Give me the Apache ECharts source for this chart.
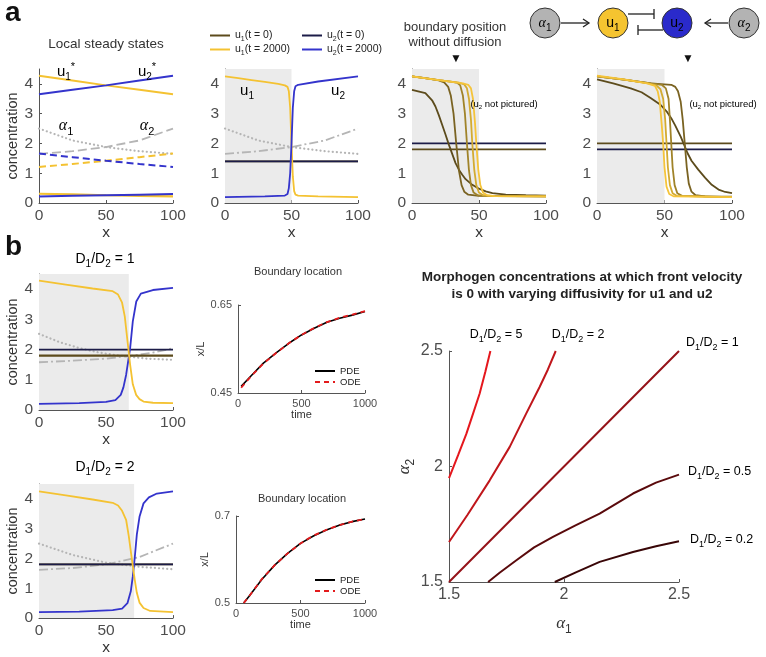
<!DOCTYPE html>
<html>
<head>
<meta charset="utf-8">
<script src="https://cdn.jsdelivr.net/npm/echarts@6/dist/echarts.min.js"></script>
<style>html,body{margin:0;background:#fff}#fig{width:766px;height:657px}</style>
</head>
<body>
<div id="fig"></div>
<script>
// ---- data ----
const stateX = [0, 25, 50, 75, 100];
const edgeX = [0, 100];
const alpha1 = [2.5, 2.1, 1.88, 1.74, 1.65];
const alpha2 = [1.65, 1.74, 1.88, 2.1, 2.5];
const u1High = [4.27, 4.11, 3.95, 3.8, 3.65];
const u2High = [3.65, 3.8, 3.95, 4.11, 4.27];
const u1Mid = [1.21, 1.31, 1.42, 1.54, 1.66];
const u2Mid = [1.66, 1.54, 1.42, 1.31, 1.21];
const u1Low = [0.31, 0.29, 0.26, 0.24, 0.22];
const u2Low = [0.22, 0.24, 0.26, 0.28, 0.3];

// panel a2
const a2Shade = [[0, 4.5], [50, 4.5]];
const a2Init = [1.4, 1.4];
const a2U1 = [[0,4.25],[10,4.19],[20,4.13],[30,4.07],[40,4.0],[45,3.95],[47,3.9],[48,3.75],[49,3.2],[50,2.0],[51,0.9],[52,0.4],[53,0.28],[55,0.25],[70,0.22],[100,0.2]];
const a2U2 = [[0,0.2],[30,0.22],[45,0.25],[47,0.3],[48,0.5],[49,1.0],[50,2.0],[51,3.2],[52,3.75],[53,3.92],[55,3.97],[70,4.08],[100,4.25]];

// panel a3 (boundary moves right)
const a3Shade = [[0, 4.5], [50, 4.5]];
const a3U2Init = [2.0, 2.0];
const a3U1Init = [1.8, 1.8];
const a3Curves = [
  [[0,3.8],[10,3.69],[15,3.45],[17.5,3.24],[20,2.95],[22.5,2.63],[25,2.3],[27.5,1.96],[30,1.65],[32.5,1.34],[35,1.12],[37.5,0.95],[40,0.8],[45,0.61],[50,0.48],[55,0.39],[60,0.33],[70,0.28],[85,0.26],[100,0.25]],
  [[0,4.25],[10,4.19],[20,4.12],[24,4.05],[27,3.9],[29,3.6],[31,3.0],[33,2.0],[35,1.1],[37,0.6],[39,0.38],[42,0.28],[50,0.24],[100,0.22]],
  [[0,4.25],[20,4.13],[30,4.07],[34,4.03],[36,3.95],[38,3.6],[39.5,3.0],[41,2.0],[42.5,1.1],[44,0.6],[46,0.35],[49,0.26],[60,0.23],[100,0.22]],
  [[0,4.25],[20,4.13],[35,4.04],[39,3.98],[41,3.85],[42.5,3.5],[44,2.8],[45,2.0],[46.5,1.1],[48,0.6],[50,0.35],[53,0.26],[60,0.23],[100,0.22]],
  [[0,4.25],[20,4.13],[38,4.02],[42,3.97],[44,3.85],[45.5,3.5],[47,2.7],[48,2.0],[49.5,1.1],[51,0.6],[53,0.35],[56,0.26],[62,0.23],[100,0.22]]
];

// panel a4 (boundary moves left)
const a4Shade = [[0, 4.5], [50, 4.5]];
const a4U1Init = [2.0, 2.0];
const a4U2Init = [1.8, 1.8];
const a4Curves = [
  [[0,4.15],[12,4.02],[25,3.85],[33,3.72],[40,3.52],[47,3.3],[52,3.05],[55,2.85],[58,2.6],[62,2.23],[65,1.9],[67,1.68],[70,1.42],[75,1.12],[80,0.85],[85,0.61],[90,0.45],[95,0.37],[100,0.33]],
  [[0,4.25],[20,4.14],[40,4.02],[55,3.97],[58,3.9],[60,3.75],[62,3.4],[63.5,2.8],[65,2.0],[66.5,1.2],[68,0.65],[70,0.38],[73,0.26],[80,0.22],[100,0.21]],
  [[0,4.25],[20,4.14],[40,4.02],[48,3.97],[51,3.85],[53,3.5],[54,2.8],[55,2.0],[56,1.2],[57.5,0.6],[59.5,0.33],[63,0.24],[100,0.2]],
  [[0,4.25],[20,4.14],[38,4.02],[44,3.95],[47,3.82],[49,3.5],[50.5,2.8],[51.5,2.0],[52.5,1.2],[54,0.6],[56,0.33],[59,0.24],[100,0.2]],
  [[0,4.28],[20,4.15],[37,4.02],[43,3.93],[45,3.75],[46.5,3.4],[48,2.6],[49,2.0],[50,1.2],[51.5,0.55],[53.5,0.3],[57,0.22],[100,0.2]]
];

// panel b, D1/D2 = 1
const b1Shade = [[0, 4.5], [67, 4.5]];
const b1U2Init = [2.0, 2.0];
const b1U1Init = [1.8, 1.8];
const b1Alpha1 = [[0,2.52],[15,2.25],[30,2.05],[45,1.9],[60,1.8],[80,1.7],[100,1.66]];
const b1Alpha2 = [[0,1.58],[25,1.63],[50,1.7],[70,1.8],[85,1.9],[100,2.04]];
const b1U1 = [[0,4.28],[20,4.15],[40,4.02],[55,3.93],[59,3.82],[62,3.55],[64,3.1],[66,2.3],[68,1.5],[70,0.85],[72.5,0.5],[75,0.36],[78,0.28],[85,0.24],[100,0.23]];
const b1U2 = [[0,0.2],[30,0.23],[50,0.27],[57,0.33],[61,0.5],[63,0.75],[65,1.16],[66.5,1.6],[68,2.04],[70,2.93],[72.6,3.59],[76,3.85],[85,3.97],[100,4.04]];

// panel b, D1/D2 = 2
const b2Shade = [[0, 4.5], [71, 4.5]];
const b2Init = [1.8, 1.8];
const b2Alpha1 = [[0,2.5],[25,2.12],[50,1.86],[75,1.72],[100,1.64]];
const b2Alpha2 = [[0,1.62],[25,1.68],[50,1.8],[75,2.05],[100,2.5]];
const b2U1 = [[0,4.25],[20,4.12],[40,3.98],[55,3.87],[59,3.78],[62,3.6],[65,3.3],[67,2.75],[69,2.08],[71.4,1.3],[73,0.85],[75,0.52],[78,0.34],[83,0.24],[100,0.2]];
const b2U2 = [[0,0.2],[30,0.22],[55,0.27],[62,0.32],[66,0.5],[68.5,0.9],[70,1.4],[71.4,2.0],[73,2.8],[75,3.4],[78,3.85],[82,4.05],[88,4.18],[100,4.25]];

// boundary location vs time
const time1 = [25, 100, 200, 300, 400, 500, 600, 700, 800, 900, 1000];
const pde1 = [0.465, 0.488, 0.518, 0.541, 0.563, 0.582, 0.597, 0.611, 0.62, 0.627, 0.635];
const ode1 = [0.462, 0.487, 0.517, 0.541, 0.563, 0.582, 0.598, 0.611, 0.621, 0.628, 0.636];
const time2 = [60, 100, 200, 300, 400, 500, 600, 700, 800, 900, 1000];
const pde2 = [0.5, 0.515, 0.554, 0.587, 0.614, 0.637, 0.654, 0.668, 0.679, 0.687, 0.693];
const ode2 = [0.5, 0.515, 0.555, 0.587, 0.614, 0.637, 0.655, 0.668, 0.679, 0.687, 0.693];

// zero-velocity curves (alpha1, alpha2)
const ratioLabels = ['5', '2', '1', '0.5', '0.2'];
const ratioCurves = [
  [[1.5,1.95],[1.54,2.05],[1.575,2.14],[1.605,2.23],[1.633,2.315],[1.658,2.41],[1.68,2.5]],
  [[1.5,1.673],[1.58,1.79],[1.677,1.94],[1.764,2.085],[1.836,2.23],[1.894,2.344],[1.93,2.42],[1.964,2.5]],
  [[1.5,1.5],[2.0,2.0],[2.5,2.5]],
  [[1.67,1.5],[1.72,1.54],[1.793,1.594],[1.87,1.65],[1.952,1.695],[2.05,1.745],[2.155,1.796],[2.3,1.883],[2.4,1.93],[2.5,1.965]],
  [[1.96,1.5],[2.054,1.543],[2.155,1.587],[2.3,1.63],[2.4,1.655],[2.5,1.676]]
];

// ---- styling ----
const FONT = '"Liberation Sans", Arial, sans-serif';
const SERIF = '"Liberation Serif", serif';
const YEL = '#f4c232', BLU = '#3434cc', NAVY = '#1c1c48', OLV = '#5c4b1c', GRY = '#b5b5b5', SHADE = '#ebebeb';
const ramp = ['#5c4b1c', '#7a6322', '#a08329', '#d3ab31', '#f5c43a'];
const ratioColors = ['#e5171d', '#c0161b', '#951319', '#5a0a0c', '#390607'];
const AXC = '#555', LBC = '#4d4d4d';

const zip = (xs, ys) => xs.map((x, i) => [x, ys[i]]);

function richSub(fs, color, fam, italic) {
  const f = fam || FONT;
  return {
    n: {fontSize: fs, fontFamily: f, color: color, lineHeight: Math.round(fs * 1.4), fontStyle: italic ? 'italic' : 'normal'},
    s: {fontSize: Math.round(fs * 0.68), fontFamily: FONT, color: color, lineHeight: Math.round(fs * 0.68), verticalAlign: 'bottom'},
    p: {fontSize: Math.round(fs * 0.7), fontFamily: FONT, color: color, lineHeight: Math.round(fs * 0.7), verticalAlign: 'top'}
  };
}

function xAx(gi, min, max, step, fs, name, gap) {
  return {
    type: 'value', gridIndex: gi, min: min, max: max, interval: step,
    name: name || '', nameLocation: 'middle', nameGap: gap || 20,
    nameTextStyle: {color: '#333', fontSize: fs, fontFamily: FONT},
    axisLine: {lineStyle: {color: AXC}}, axisTick: {inside: true, length: 3, lineStyle: {color: AXC}},
    axisLabel: {color: LBC, fontSize: fs, fontFamily: FONT, margin: 5, formatter: v => String(+v.toFixed(3))},
    splitLine: {show: false}
  };
}
function yAx(gi, min, max, step, fs, name, gap, hideMax) {
  const a = xAx(gi, min, max, step, fs, name, gap);
  a.nameRotate = 90;
  a.axisLabel.showMaxLabel = !hideMax;
  a.axisLabel.margin = 6;
  return a;
}

function line(gi, data, color, opt) {
  opt = opt || {};
  return {
    type: 'line', name: opt.name || '', xAxisIndex: gi, yAxisIndex: gi, data: data,
    symbol: 'none', z: opt.z || 3, silent: true, animation: false,
    lineStyle: {color: color, width: opt.width || 1.8, type: opt.type || 'solid', cap: opt.cap || 'butt'},
    itemStyle: {color: color}
  };
}
function shade(gi, data) {
  return {
    type: 'line', xAxisIndex: gi, yAxisIndex: gi, data: data, symbol: 'none', z: 1, silent: true,
    lineStyle: {width: 0}, areaStyle: {color: SHADE, opacity: 1, origin: 'start'}
  };
}
const dotted = {type: [0.1, 4], cap: 'round', width: 2.2};
const dashdot = {type: [9, 3, 2, 3], width: 1.8};

const grids = [
  {left: 39, top: 69, width: 134, height: 134},
  {left: 225, top: 69, width: 133, height: 134},
  {left: 412, top: 69, width: 134, height: 134},
  {left: 597, top: 69, width: 135, height: 134},
  {left: 39, top: 274, width: 134, height: 136},
  {left: 39, top: 484, width: 134, height: 135},
  {left: 238, top: 305, width: 127, height: 88},
  {left: 236, top: 516, width: 129, height: 87},
  {left: 449, top: 351, width: 230, height: 231}
];

const xAxes = [
  xAx(0, 0, 100, 50, 15.5, 'x', 22), xAx(1, 0, 100, 50, 15.5, 'x', 22),
  xAx(2, 0, 100, 50, 15.5, 'x', 22), xAx(3, 0, 100, 50, 15.5, 'x', 22),
  xAx(4, 0, 100, 50, 15.5, 'x', 21), xAx(5, 0, 100, 50, 15.5, 'x', 21),
  xAx(6, 0, 1000, 500, 11, 'time', 14), xAx(7, 0, 1000, 500, 11, 'time', 14),
  xAx(8, 1.5, 2.5, 0.5, 16, '{n|α}{s|1}', 30)
];
const yAxes = [
  yAx(0, 0, 4.5, 1, 15.5, 'concentration', 19, true), yAx(1, 0, 4.5, 1, 15.5, '', 19, true),
  yAx(2, 0, 4.5, 1, 15.5, '', 19, true), yAx(3, 0, 4.5, 1, 15.5, '', 19, true),
  yAx(4, 0, 4.5, 1, 15.5, 'concentration', 19, true), yAx(5, 0, 4.5, 1, 15.5, 'concentration', 19, true),
  yAx(6, 0.45, 0.65, 0.2, 11, 'x/L', 26), yAx(7, 0.5, 0.7, 0.2, 11, 'x/L', 22),
  yAx(8, 1.5, 2.5, 0.5, 16, '{n|α}{s|2}', 30)
];
xAxes[8].nameTextStyle.rich = richSub(17, '#333', SERIF, true);
yAxes[8].nameTextStyle.rich = richSub(17, '#333', SERIF, true);
yAxes[0].nameTextStyle.fontSize = 14.5;
yAxes[4].nameTextStyle.fontSize = 14.5;
yAxes[5].nameTextStyle.fontSize = 14.5;

const series = [];
// a1: local steady states
series.push(line(0, zip(stateX, alpha1), GRY, dotted));
series.push(line(0, zip(stateX, alpha2), GRY, {type: [9, 4], width: 1.8}));
series.push(line(0, zip(stateX, u1Mid), YEL, {type: [7, 4], width: 2}));
series.push(line(0, zip(stateX, u2Mid), BLU, {type: [7, 4], width: 2}));
series.push(line(0, zip(stateX, u1High), YEL, {width: 2}));
series.push(line(0, zip(stateX, u2High), BLU, {width: 2}));
series.push(line(0, zip(stateX, u1Low), YEL, {width: 2.2}));
series.push(line(0, zip(stateX, u2Low), BLU, {width: 2}));
// a2
series.push(shade(1, a2Shade));
series.push(line(1, zip(stateX, alpha1), GRY, dotted));
series.push(line(1, zip(stateX, alpha2), GRY, dashdot));
series.push(line(1, zip(edgeX, a2Init), OLV, {name: 'u1(t = 0)'}));
series.push(line(1, zip(edgeX, a2Init), NAVY, {name: 'u2(t = 0)'}));
series.push(line(1, a2U1, YEL, {name: 'u1(t = 2000)'}));
series.push(line(1, a2U2, BLU, {name: 'u2(t = 2000)'}));
// a3
series.push(shade(2, a3Shade));
series.push(line(2, zip(edgeX, a3U2Init), NAVY, {name: 'u2(t = 0)'}));
series.push(line(2, zip(edgeX, a3U1Init), OLV, {name: 'u1(t = 0)'}));
a3Curves.forEach((c, i) => series.push(line(2, c, ramp[i])));
// a4
series.push(shade(3, a4Shade));
series.push(line(3, zip(edgeX, a4U1Init), OLV, {name: 'u1(t = 0)'}));
series.push(line(3, zip(edgeX, a4U2Init), NAVY, {name: 'u2(t = 0)'}));
a4Curves.forEach((c, i) => series.push(line(3, c, ramp[i])));
// b1
series.push(shade(4, b1Shade));
series.push(line(4, b1Alpha1, GRY, dotted));
series.push(line(4, b1Alpha2, GRY, dashdot));
series.push(line(4, zip(edgeX, b1U2Init), NAVY, {name: 'u2(t = 0)'}));
series.push(line(4, zip(edgeX, b1U1Init), OLV, {name: 'u1(t = 0)', width: 2.2}));
series.push(line(4, b1U2, BLU, {name: 'u2(t = 2000)'}));
series.push(line(4, b1U1, YEL, {name: 'u1(t = 2000)'}));
// b2
series.push(shade(5, b2Shade));
series.push(line(5, b2Alpha1, GRY, dotted));
series.push(line(5, b2Alpha2, GRY, dashdot));
series.push(line(5, zip(edgeX, b2Init), OLV, {name: 'u1(t = 0)'}));
series.push(line(5, zip(edgeX, b2Init), NAVY, {name: 'u2(t = 0)'}));
series.push(line(5, b2U2, BLU, {name: 'u2(t = 2000)'}));
series.push(line(5, b2U1, YEL, {name: 'u1(t = 2000)'}));
// boundary location
series.push(line(6, zip(time1, pde1), '#000', {name: 'PDE', width: 1.6}));
series.push(line(6, zip(time1, ode1), '#e31a1c', {name: 'ODE', type: [5, 4], width: 1.8}));
series.push(line(7, zip(time2, pde2), '#000', {name: 'PDE', width: 1.6}));
series.push(line(7, zip(time2, ode2), '#e31a1c', {name: 'ODE', type: [5, 4], width: 1.8}));
// zero-velocity curves
ratioCurves.forEach((c, i) => series.push(line(8, c, ratioColors[i], {width: 2})));

// ---- annotations ----
function txt(x, y, text, fs, opt) {
  return {type: 'text', x: x, y: y, z: 100, silent: true,
    style: Object.assign({text: text, fill: '#333', font: fs + 'px ' + FONT, align: 'center', verticalAlign: 'middle'}, opt || {})};
}
function rtxt(x, y, text, fs, fam, italic, align) {
  return {type: 'text', x: x, y: y, z: 100, silent: true,
    style: {text: text, rich: richSub(fs, '#333', fam, italic), align: align || 'center', verticalAlign: 'middle'}};
}
function node(cx, text, fill, color) {
  return [
    {type: 'circle', z: 100, shape: {cx: cx, cy: 23, r: 15}, style: {fill: fill, stroke: '#333', lineWidth: 1}},
    {type: 'text', x: cx, y: 23, z: 101, style: {text: text, rich: richSub(14, color, text.indexOf('α') >= 0 ? SERIF : FONT, text.indexOf('α') >= 0), align: 'center', verticalAlign: 'middle'}}
  ];
}
const stroke = {stroke: '#222', lineWidth: 1.3, fill: null};
const graphic = [
  txt(5, 13, 'a', 28, {font: 'bold 28px ' + FONT, fill: '#111', align: 'left'}),
  txt(5, 247, 'b', 28, {font: 'bold 28px ' + FONT, fill: '#111', align: 'left'}),
  txt(106, 44, 'Local steady states', 13.5),
  rtxt(66, 72, '{n|u}{s|1}{p|*}', 15),
  rtxt(147, 72, '{n|u}{s|2}{p|*}', 15),
  rtxt(66, 126, '{n|α}{s|1}', 16, SERIF, true),
  rtxt(147, 126, '{n|α}{s|2}', 16, SERIF, true),
  rtxt(247, 91, '{n|u}{s|1}', 15),
  rtxt(338, 91, '{n|u}{s|2}', 15),
  txt(455, 27, 'boundary position', 13),
  txt(455, 42, 'without diffusion', 13),
  txt(456, 59, '▼', 12, {fill: '#111'}),
  txt(688, 59, '▼', 12, {fill: '#111'}),
  rtxt(504, 104, '{n|(u}{s|2}{n| not pictured)}', 9.5),
  rtxt(723, 104, '{n|(u}{s|2}{n| not pictured)}', 9.5),
  rtxt(105, 259, '{n|D}{s|1}{n|/D}{s|2}{n| = 1}', 14),
  rtxt(105, 467, '{n|D}{s|1}{n|/D}{s|2}{n| = 2}', 14),
  txt(298, 272, 'Boundary location', 11),
  txt(302, 499, 'Boundary location', 11),
  txt(582, 277, 'Morphogen concentrations at which front velocity', 13.5, {font: 'bold 13.5px ' + FONT, fill: '#222'}),
  txt(582, 294, 'is 0 with varying diffusivity for u1 and u2', 13.5, {font: 'bold 13.5px ' + FONT, fill: '#222'}),
  rtxt(496, 335, '{n|D}{s|1}{n|/D}{s|2}{n| = ' + ratioLabels[0] + '}', 12.5),
  rtxt(578, 335, '{n|D}{s|1}{n|/D}{s|2}{n| = ' + ratioLabels[1] + '}', 12.5),
  rtxt(686, 343, '{n|D}{s|1}{n|/D}{s|2}{n| = ' + ratioLabels[2] + '}', 12.5, null, false, 'left'),
  rtxt(688, 472, '{n|D}{s|1}{n|/D}{s|2}{n| = ' + ratioLabels[3] + '}', 12.5, null, false, 'left'),
  rtxt(690, 540, '{n|D}{s|1}{n|/D}{s|2}{n| = ' + ratioLabels[4] + '}', 12.5, null, false, 'left'),
  // network diagram
  {type: 'line', z: 100, shape: {x1: 561, y1: 23, x2: 589, y2: 23}, style: stroke},
  {type: 'polyline', z: 100, shape: {points: [[583, 19], [589, 23], [583, 27]]}, style: stroke},
  {type: 'line', z: 100, shape: {x1: 628, y1: 14, x2: 654, y2: 14}, style: stroke},
  {type: 'line', z: 100, shape: {x1: 654, y1: 9, x2: 654, y2: 19}, style: stroke},
  {type: 'line', z: 100, shape: {x1: 663, y1: 30, x2: 638, y2: 30}, style: stroke},
  {type: 'line', z: 100, shape: {x1: 638, y1: 25, x2: 638, y2: 35}, style: stroke},
  {type: 'line', z: 100, shape: {x1: 728, y1: 23, x2: 705, y2: 23}, style: stroke},
  {type: 'polyline', z: 100, shape: {points: [[711, 19], [705, 23], [711, 27]]}, style: stroke}
].concat(node(545, '{n|α}{s|1}', '#b3b3b3', '#222'), node(613, '{n|u}{s|1}', '#f5c430', '#222'),
         node(677, '{n|u}{s|2}', '#2a2acb', '#fff'), node(744, '{n|α}{s|2}', '#b3b3b3', '#222'));

const legFmt = name => name.replace(/^u(\d)/, '{n|u}{s|$1}{n|') + '}';
const legBase = {orient: 'vertical', itemWidth: 20, itemHeight: 12, itemGap: 1, selectedMode: false,
  itemStyle: {opacity: 0}, formatter: legFmt, textStyle: {rich: richSub(10.5, '#222')}};
const smallLeg = {orient: 'vertical', itemWidth: 20, itemHeight: 11, itemGap: 1, selectedMode: false,
  itemStyle: {opacity: 0}, textStyle: {fontSize: 9.5, fontFamily: FONT, color: '#222'}};

const option = {
  animation: false,
  backgroundColor: '#fff',
  grid: grids,
  xAxis: xAxes,
  yAxis: yAxes,
  legend: [
    Object.assign({data: ['u1(t = 0)', 'u1(t = 2000)'], left: 204, top: 25}, legBase),
    Object.assign({data: ['u2(t = 0)', 'u2(t = 2000)'], left: 296, top: 25}, legBase),
    Object.assign({data: ['PDE', 'ODE'], left: 309, top: 361}, smallLeg),
    Object.assign({data: ['PDE', 'ODE'], left: 309, top: 570}, smallLeg)
  ],
  series: series,
  graphic: graphic
};

const chart = echarts.init(document.getElementById('fig'));
chart.setOption(option);
</script>
</body>
</html>
